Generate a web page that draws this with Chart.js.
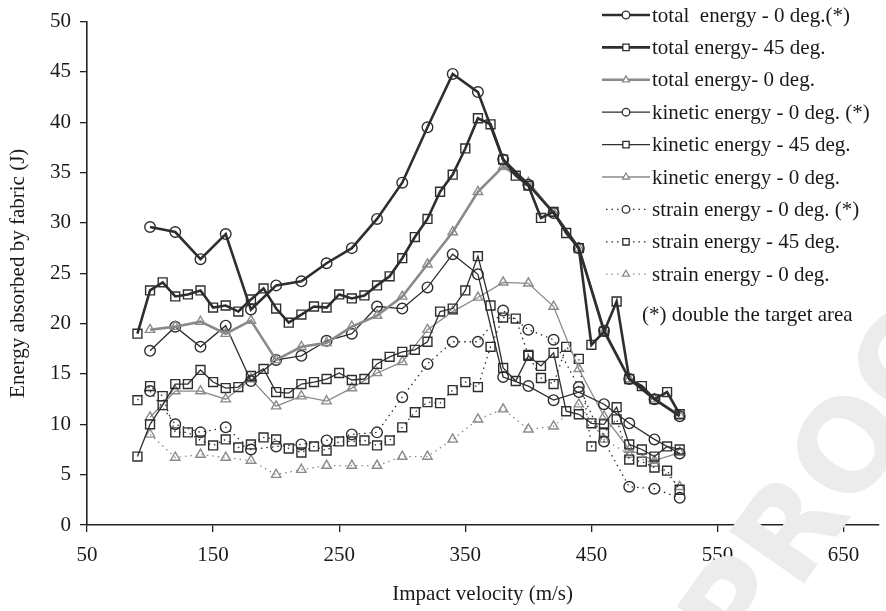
<!DOCTYPE html>
<html lang="en">
<head>
    <meta charset="UTF-8">
    <title>Energy absorbed by fabric</title>
    <style>
        body {
            margin: 0;
            background: #fff;
        }
        .chart-box {
            width: 886px;
            height: 611px;
        }
    </style>
</head>
<body>
    <div class="chart-box">
        <canvas id="energyChart" width="886" height="611"></canvas>
    </div>

    <script src="https://cdn.jsdelivr.net/npm/chart.js@4.4.0/dist/chart.umd.min.js"></script>
    <script>
        // impact velocities (m/s)
        var vEvery20 = [100, 120, 140, 160, 180, 200, 220, 240, 260, 280, 300, 320, 340, 360, 380, 400, 420, 440, 460, 480, 500, 520];
        var vEvery10 = [90, 100, 110, 120, 130, 140, 150, 160, 170, 180, 190, 200, 210, 220, 230, 240, 250, 260, 270, 280, 290, 300,
                        310, 320, 330, 340, 350, 360, 370, 380, 390, 400, 410, 420, 430, 440, 450, 460, 470, 480, 490, 500, 510, 520];

        // energies (J)
        var totalZeroDouble = [29.6, 29.1, 26.4, 28.9, 21.4, 23.8, 24.2, 26.0, 27.5, 30.4, 34.0, 39.5, 44.8, 43.0, 36.3, 33.8, 31.0, 27.5, 19.3, 14.5, 12.5, 10.8];
        var total45 = [19.0, 23.3, 24.1, 22.7, 22.9, 23.3, 21.6, 21.8, 21.2, 22.4, 23.5, 21.5, 20.1, 20.9, 21.7, 21.6, 22.9, 22.5, 22.8, 23.8, 24.7, 26.5,
                       28.6, 30.4, 33.1, 34.8, 37.4, 40.4, 39.8, 36.3, 34.7, 33.7, 30.5, 31.1, 29.0, 27.5, 17.9, 19.2, 22.2, 14.5, 13.8, 12.5, 13.2, 11.0];
        var totalZero = [19.4, 19.7, 20.2, 19.0, 20.3, 16.4, 17.7, 18.1, 19.7, 20.8, 22.7, 25.9, 29.1, 33.1, 35.6, 34.0, 31.0, 27.5, 19.2, 14.5, 12.5, 10.9];
        var kineticZeroDouble = [17.3, 19.7, 17.7, 19.8, 14.3, 16.4, 16.8, 18.3, 19.0, 21.7, 21.5, 23.6, 26.9, 24.9, 14.7, 13.8, 12.4, 13.2, 12.0, 10.1, 8.5, 7.1];
        var kinetic45 = [6.8, 10.0, 11.9, 14.0, 14.0, 15.4, 14.2, 13.6, 13.7, 14.8, 15.5, 13.2, 13.1, 14.0, 14.2, 14.5, 15.1, 14.4, 14.5, 16.0, 16.7, 17.2,
                         17.4, 18.2, 21.2, 21.5, 23.3, 26.7, 21.8, 15.6, 14.3, 16.8, 15.8, 17.1, 11.3, 11.0, 10.1, 10.0, 11.7, 8.0, 7.5, 6.8, 7.8, 7.5];
        var kineticZero = [10.7, 13.3, 13.3, 12.5, 14.5, 11.8, 12.8, 12.3, 13.6, 15.1, 16.2, 19.4, 21.2, 22.6, 24.1, 24.0, 21.7, 15.5, 10.8, 7.5, 6.4, 7.2];
        var strainZeroDouble = [13.3, 10.0, 9.2, 9.7, 7.5, 7.8, 8.0, 8.4, 9.0, 9.2, 12.7, 16.0, 18.2, 18.2, 21.3, 19.4, 18.4, 13.7, 8.3, 3.8, 3.6, 2.7];
        var strain45 = [12.4, 13.8, 12.8, 9.2, 9.2, 8.4, 7.9, 8.5, 7.7, 8.0, 8.7, 8.5, 7.6, 7.2, 7.8, 7.4, 8.3, 8.3, 8.4, 7.9, 8.4, 9.7,
                        11.2, 12.2, 12.1, 13.4, 14.2, 13.7, 17.7, 20.6, 20.5, 16.9, 14.6, 14.0, 17.7, 16.5, 7.8, 9.2, 10.5, 6.5, 6.3, 5.7, 5.4, 3.5];
        var strainZero = [9.0, 6.7, 7.0, 6.7, 6.4, 5.0, 5.5, 5.9, 5.9, 5.9, 6.8, 6.8, 8.5, 10.5, 11.5, 9.5, 9.8, 12.0, 8.5, 7.0, 6.1, 3.8];

        var xTicks = [50, 150, 250, 350, 450, 550, 650];

        var DARK = '#2e2e2e';
        var GREY = '#8a8a8a';
        var SERIF = '"Liberation Serif", "Times New Roman", serif';
        var FONT_SIZE = 21;

        function pairs(xs, ys) {
            return ys.map(function(y, i) { return { x: xs[i], y: y }; });
        }

        // kind: 'total' thick, 'kinetic' thin, 'strain' dotted
        function series(label, xs, ys, kind, colour, marker) {
            var radius = marker === 'rect' ? 6.3 : (marker === 'triangle' ? 5.4 : 5.3);
            return {
                label: label,
                data: pairs(xs, ys),
                kind: kind,
                borderColor: colour,
                borderWidth: kind === 'total' ? 2.6 : 1.3,
                borderDash: kind === 'strain' ? [1.5, 4] : [],
                pointStyle: marker,
                pointRadius: radius,
                pointHoverRadius: radius,
                pointBorderColor: colour,
                pointBackgroundColor: 'rgba(255,255,255,0)',
                pointBorderWidth: 1.4,
                fill: false,
                tension: 0
            };
        }

        var datasets = [
            series('total  energy - 0 deg.(*)', vEvery20, totalZeroDouble, 'total', DARK, 'circle'),
            series('total energy- 45 deg.', vEvery10, total45, 'total', DARK, 'rect'),
            series('total energy- 0 deg.', vEvery20, totalZero, 'total', GREY, 'triangle'),
            series('kinetic energy - 0 deg. (*)', vEvery20, kineticZeroDouble, 'kinetic', DARK, 'circle'),
            series('kinetic energy - 45 deg.', vEvery10, kinetic45, 'kinetic', DARK, 'rect'),
            series('kinetic energy - 0 deg.', vEvery20, kineticZero, 'kinetic', GREY, 'triangle'),
            series('strain energy - 0 deg. (*)', vEvery20, strainZeroDouble, 'strain', DARK, 'circle'),
            series('strain energy - 45 deg.', vEvery10, strain45, 'strain', DARK, 'rect'),
            series('strain energy - 0 deg.', vEvery20, strainZero, 'strain', GREY, 'triangle')
        ];

        // faint "PROOF" stamp behind the lines
        var watermark = {
            id: 'watermark',
            beforeDatasetsDraw: function(chart) {
                var ctx = chart.ctx;
                ctx.save();
                ctx.translate(745, 668);
                ctx.rotate(-55 * Math.PI / 180);
                ctx.font = 'bold 125px "DejaVu Sans", sans-serif';
                ctx.fillStyle = '#ececec';
                ctx.textBaseline = 'alphabetic';
                ctx.fillText('PROOF', 0, 0);
                ctx.restore();
            }
        };

        // legend drawn by hand, top right like the original
        var sideLegend = {
            id: 'sideLegend',
            afterDraw: function(chart) {
                var ctx = chart.ctx;
                var x0 = 602, x1 = 650, textX = 652, rowY = 15, step = 32.4;
                ctx.save();
                ctx.font = FONT_SIZE + 'px ' + SERIF;
                ctx.textBaseline = 'middle';
                chart.data.datasets.forEach(function(ds, i) {
                    var y = rowY + i * step;
                    var mid = (x0 + x1) / 2;
                    ctx.strokeStyle = ds.borderColor;
                    ctx.lineWidth = ds.borderWidth;
                    ctx.setLineDash(ds.kind === 'strain' ? [1.5, 4] : []);
                    ctx.beginPath();
                    if (ds.kind === 'strain') {
                        ctx.moveTo(x0 + 4, y); ctx.lineTo(mid - 7, y);
                        ctx.moveTo(mid + 7, y); ctx.lineTo(x1 - 4, y);
                    } else {
                        ctx.moveTo(x0, y); ctx.lineTo(x1, y);
                    }
                    ctx.stroke();
                    ctx.setLineDash([]);
                    ctx.lineWidth = 1.3;
                    ctx.fillStyle = '#fff';
                    var r = ds.pointStyle === 'rect' ? 4.5 : (ds.pointStyle === 'triangle' ? 4 : 3.8);
                    Chart.helpers.drawPoint(ctx, { pointStyle: ds.pointStyle, radius: r, rotation: 0, borderWidth: 1.3 }, mid, y);
                    ctx.fillStyle = '#1a1a1a';
                    ctx.fillText(ds.label, textX, y + 1);
                });
                ctx.fillText('(*) double the target area', 642, rowY + 9 * step + 9);
                ctx.restore();
            }
        };

        var ctx = document.getElementById('energyChart').getContext('2d');
        var energyChart = new Chart(ctx, {
            type: 'line',
            data: { datasets: datasets },
            options: {
                responsive: false,
                animation: false,
                layout: { padding: { top: 14, right: 0, left: 0, bottom: 0 } },
                plugins: {
                    legend: { display: false },
                    tooltip: { enabled: false }
                },
                scales: {
                    x: {
                        type: 'linear',
                        min: 50,
                        max: 677.5,
                        afterBuildTicks: function(scale) {
                            scale.ticks = xTicks.map(function(v) { return { value: v }; });
                        },
                        afterFit: function(scale) { scale.height = 86; },
                        grid: { drawOnChartArea: false, drawTicks: true, tickLength: 7, color: '#222', lineWidth: 1.3 },
                        border: { display: true, color: '#222', width: 1.6 },
                        ticks: { color: '#1a1a1a', font: { family: SERIF, size: FONT_SIZE }, padding: 11, maxRotation: 0 },
                        title: {
                            display: true,
                            text: 'Impact velocity (m/s)',
                            color: '#1a1a1a',
                            font: { family: SERIF, size: FONT_SIZE },
                            padding: { top: 0, bottom: 4 }
                        }
                    },
                    y: {
                        min: 0,
                        max: 50,
                        afterFit: function(scale) { scale.width = 87; },
                        grid: { drawOnChartArea: false, drawTicks: true, tickLength: 7, color: '#222', lineWidth: 1.3 },
                        border: { display: true, color: '#222', width: 1.6 },
                        ticks: { stepSize: 5, color: '#1a1a1a', font: { family: SERIF, size: FONT_SIZE }, padding: 9 },
                        title: {
                            display: true,
                            text: 'Energy absorbed by fabric (J)',
                            color: '#1a1a1a',
                            font: { family: SERIF, size: FONT_SIZE },
                            padding: { top: 6, bottom: 0 }
                        }
                    }
                }
            },
            plugins: [watermark, sideLegend]
        });
    </script>
</body>
</html>
